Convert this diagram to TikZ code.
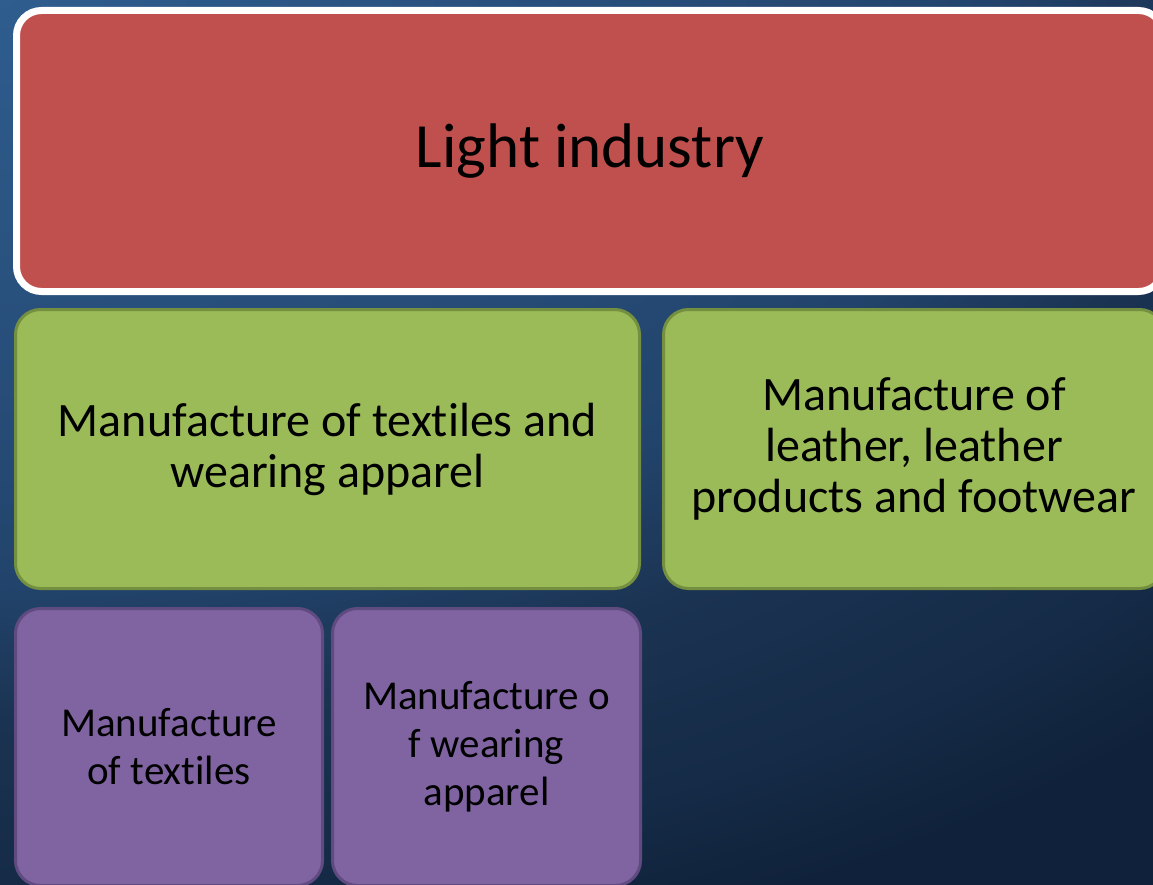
\documentclass[tikz,border=0pt]{standalone}
\usepackage{fontspec}
\setmainfont[Ligatures=CommonOff]{Carlito}
\usetikzlibrary{positioning}
\definecolor{slidehi}{HTML}{2E5D8E}
\definecolor{slidea}{HTML}{284F7B}
\definecolor{slideb}{HTML}{22446C}
\definecolor{slidec}{HTML}{1B3352}
\definecolor{slided}{HTML}{152B47}
\definecolor{slidelo}{HTML}{10223B}
\definecolor{brick}{HTML}{C0504D}
\definecolor{leaf}{HTML}{9BBB59}
\definecolor{leafrule}{HTML}{738F3F}
\definecolor{plum}{HTML}{8064A2}
\definecolor{plumrule}{HTML}{5F4B80}
\pgfdeclareradialshading{slideglow}{\pgfpoint{0bp}{0bp}}{%
  color(0bp)=(slidehi); color(8.5bp)=(slidea); color(14.5bp)=(slideb);
  color(18bp)=(slidec); color(22bp)=(slided); color(25bp)=(slidelo);
  color(50bp)=(slidelo)}
\tikzset{
  tile/.style={rounded corners=25pt, align=center, inner sep=0pt, outer sep=0pt, text=black},
  headbox/.style={tile, draw=white, line width=7pt, fill=brick,
    font=\fontsize{63}{70}\selectfont},
  groupbox/.style={tile, draw=leafrule, line width=3pt, fill=leaf,
    minimum height=279pt, font=\fontsize{48}{51}\selectfont},
  itembox/.style={tile, draw=plumrule, line width=3pt, fill=plum,
    minimum height=277pt, font=\fontsize{41}{48}\selectfont},
}

\begin{document}
\begin{tikzpicture}[x=1pt, y=-1pt]
\useasboundingbox (0,0) rectangle (1153,885);
\clip (0,0) rectangle (1153,885);
% backdrop
\fill[slidelo] (0,0) rectangle (1153,885);
\shade[shading=slideglow] (0,0) ellipse (1700 and 1000);
% top level
\node[headbox, minimum width=1147pt, minimum height=281pt] (light) at (590,151) {Light industry};
% second level
\node[groupbox, minimum width=624pt, below right=18pt and -1pt of light.south west] (textiles)
  {Manufacture of textiles and\\wearing apparel};
\node[groupbox, minimum width=501pt, right=24pt of textiles] (leather)
  {Manufacture of\\leather, leather\\products and footwear};
% third level
\node[itembox, minimum width=307pt, below right=20pt and 0pt of textiles.south west] (fabric)
  {Manufacture\\of textiles};
\node[itembox, minimum width=308pt, right=10pt of fabric] (apparel)
  {Manufacture o\\f wearing\\apparel};
\end{tikzpicture}
\end{document}
